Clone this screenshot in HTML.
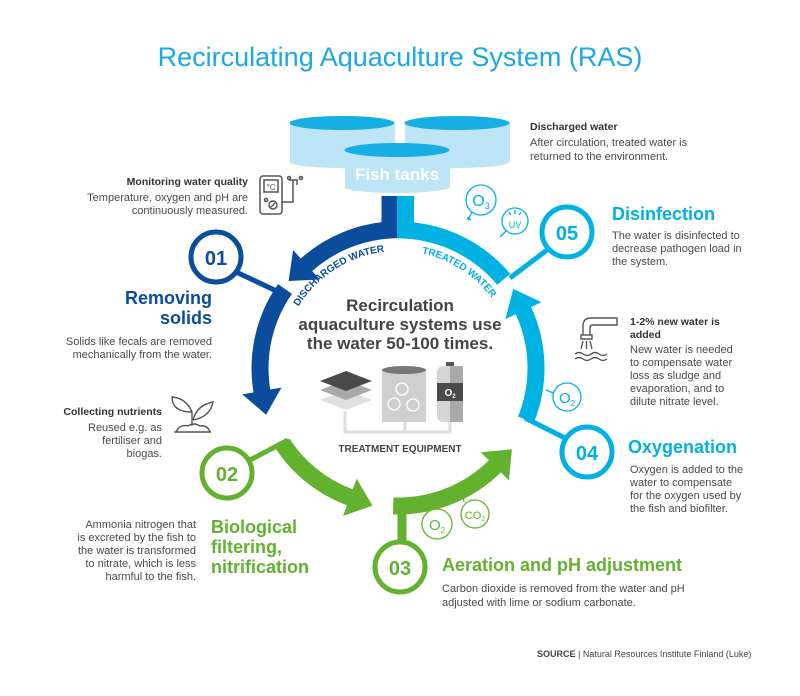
<!DOCTYPE html>
<html><head><meta charset="utf-8"><style>
html,body{margin:0;padding:0;background:#fff;}
svg{display:block;font-family:"Liberation Sans",sans-serif;}
.b{font-size:11px;fill:#4a4a4a;}
.bb{font-size:10.5px;fill:#333;font-weight:bold;}
.h{font-size:18px;font-weight:bold;}
</style></head><body>
<svg width="800" height="696" viewBox="0 0 800 696" xmlns="http://www.w3.org/2000/svg">
<defs>
<marker id="md" markerUnits="userSpaceOnUse" markerWidth="40" markerHeight="44" viewBox="-2 -21 30 42" refX="0" refY="0" orient="auto"><path d="M-1,-19 L22,0 L-1,19 z" fill="#0b4c9c"/></marker>
<marker id="mg" markerUnits="userSpaceOnUse" markerWidth="40" markerHeight="44" viewBox="-2 -21 30 42" refX="0" refY="0" orient="auto"><path d="M-1,-19 L22,0 L-1,19 z" fill="#62b22f"/></marker>
<marker id="ml" markerUnits="userSpaceOnUse" markerWidth="40" markerHeight="44" viewBox="-2 -21 30 42" refX="0" refY="0" orient="auto"><path d="M-1,-19 L22,0 L-1,19 z" fill="#00b1e3"/></marker>
<path id="tp1" d="M296.7,309.5 A117 117 0 0 1 387.8,251.4"/>
<path id="tp2" d="M408.2,251.4 A117 117 0 0 1 499.3,309.5"/>
</defs>

<text x="400" y="66" text-anchor="middle" font-size="27" fill="#1aa9e1">Recirculating Aquaculture System (RAS)</text>

<g>
<rect x="290" y="123" width="105" height="39" fill="#bde5f6"/>
<ellipse cx="342" cy="162" rx="52.5" ry="6" fill="#bde5f6"/>
<ellipse cx="342" cy="123" rx="52.5" ry="7" fill="#16aee3"/>
<rect x="405" y="123" width="105" height="39" fill="#bde5f6"/>
<ellipse cx="457" cy="162" rx="52.5" ry="6" fill="#bde5f6"/>
<ellipse cx="457" cy="123" rx="52.5" ry="7" fill="#16aee3"/>
<rect x="345" y="150" width="105" height="37" fill="#bde5f6"/>
<ellipse cx="397" cy="187" rx="52.5" ry="6" fill="#bde5f6"/>
<ellipse cx="397" cy="150" rx="52.5" ry="7" fill="#16aee3"/>
<text x="397" y="180" text-anchor="middle" font-size="17" font-weight="bold" fill="#fff">Fish tanks</text>
</g>

<text x="530" y="130" class="bb">Discharged water</text>
<text x="530" y="146" class="b">After circulation, treated water is</text>
<text x="530" y="160" class="b">returned to the environment.</text>

<text x="248" y="185" class="bb" text-anchor="end">Monitoring water quality</text>
<text x="248" y="201" class="b" text-anchor="end">Temperature, oxygen and pH are</text>
<text x="248" y="214" class="b" text-anchor="end">continuously measured.</text>
<g fill="none" stroke="#555" stroke-width="1.5">
<rect x="260" y="176" width="22" height="38" rx="3"/>
<rect x="264" y="180" width="14" height="12"/>
<circle cx="266" cy="200" r="1.5"/>
<circle cx="273" cy="205" r="4"/>
<path d="M271,207 L275,203 M282,202 L293,202 L293,180 M289,180 L297,180 L297,185"/>
<circle cx="289" cy="178" r="1.5"/><circle cx="301" cy="178" r="1.5"/>
</g>
<text x="271" y="190" font-size="8" fill="#555" text-anchor="middle">°C</text>

<g fill="none" stroke-width="17" stroke-linejoin="miter">
<path d="M390,196 L390,230 A138 138 0 0 0 305.7,265.5" stroke="#0b4c9c" marker-end="url(#md)"/>
<path d="M285,289 A138 138 0 0 0 262.1,392" stroke="#0b4c9c" marker-end="url(#md)"/>
<path d="M282.3,443.2 A138 138 0 0 0 350.8,497.7" stroke="#62b22f" marker-end="url(#mg)"/>
<path d="M393.2,505.9 A138 138 0 0 0 495.6,465.6" stroke="#62b22f" marker-end="url(#mg)"/>
<path d="M526,419.7 A138 138 0 0 0 523,309.7" stroke="#00b1e3" marker-end="url(#ml)"/>
<path d="M503.7,279.3 A138 138 0 0 0 405.5,230.2 L405.5,196" stroke="#00b1e3"/>
</g>
<line x1="402" y1="505" x2="402" y2="545" stroke="#62b22f" stroke-width="9"/>

<g stroke-width="5" fill="none">
<line x1="236" y1="272" x2="285" y2="295" stroke="#0b4c9c"/>
<circle cx="216" cy="257" r="25" stroke="#0b4c9c" fill="#fff"/>
<line x1="250" y1="460" x2="288" y2="440" stroke="#62b22f"/>
<circle cx="227" cy="473" r="25" stroke="#62b22f" fill="#fff"/>
<circle cx="400" cy="567" r="25" stroke="#62b22f" fill="#fff"/>
<line x1="565" y1="438" x2="525" y2="418" stroke="#00b1e3"/>
<circle cx="587" cy="452" r="25" stroke="#00b1e3" fill="#fff"/>
<line x1="547" y1="250" x2="510" y2="278" stroke="#00b1e3"/>
<circle cx="567" cy="232" r="25" stroke="#00b1e3" fill="#fff"/>
</g>
<g font-size="20" font-weight="bold" text-anchor="middle">
<text x="216" y="265" fill="#0b4c9c">01</text>
<text x="227" y="481" fill="#62b22f">02</text>
<text x="400" y="575" fill="#62b22f">03</text>
<text x="587" y="460" fill="#00b1e3">04</text>
<text x="567" y="240" fill="#00b1e3">05</text>
</g>

<text font-size="10" font-weight="bold" fill="#0b4c9c" text-anchor="middle"><textPath href="#tp1" startOffset="50%">DISCHARGED WATER</textPath></text>
<text font-size="10" font-weight="bold" fill="#00b1e3" text-anchor="middle"><textPath href="#tp2" startOffset="50%">TREATED WATER</textPath></text>

<text x="212" y="304" class="h" fill="#0b4c9c" text-anchor="end">Removing</text>
<text x="212" y="324" class="h" fill="#0b4c9c" text-anchor="end">solids</text>
<text x="212" y="345" class="b" text-anchor="end">Solids like fecals are removed</text>
<text x="212" y="358" class="b" text-anchor="end">mechanically from the water.</text>

<text x="162" y="415" class="bb" text-anchor="end">Collecting nutrients</text>
<text x="162" y="431" class="b" text-anchor="end">Reused e.g. as</text>
<text x="162" y="444" class="b" text-anchor="end">fertiliser and</text>
<text x="162" y="457" class="b" text-anchor="end">biogas.</text>
<g fill="none" stroke="#555" stroke-width="1.4">
<path d="M174,432 L211,432 M176,432 Q180,424 188,426 Q194,422 200,426 Q208,425 210,432"/>
<path d="M192,426 L192,412 Q186,398 172,397 Q172,412 192,412"/>
<path d="M193,420 Q197,405 213,402 Q210,417 193,420"/>
</g>

<g class="b" text-anchor="end">
<text x="196" y="528">Ammonia nitrogen that</text>
<text x="196" y="541">is excreted by the fish to</text>
<text x="196" y="554">the water is transformed</text>
<text x="196" y="567">to nitrate, which is less</text>
<text x="196" y="580">harmful to the fish.</text>
</g>
<text x="211" y="533" class="h" fill="#62b22f">Biological</text>
<text x="211" y="553" class="h" fill="#62b22f">filtering,</text>
<text x="211" y="573" class="h" fill="#62b22f">nitrification</text>

<text x="442" y="571" class="h" fill="#62b22f">Aeration and pH adjustment</text>
<text x="442" y="592" class="b">Carbon dioxide is removed from the water and pH</text>
<text x="442" y="606" class="b">adjusted with lime or sodium carbonate.</text>

<text x="628" y="453" class="h" fill="#00b1e3">Oxygenation</text>
<g class="b">
<text x="630" y="473">Oxygen is added to the</text>
<text x="630" y="486">water to compensate</text>
<text x="630" y="499">for the oxygen used by</text>
<text x="630" y="512">the fish and biofilter.</text>
</g>

<text x="630" y="325" class="bb">1-2% new water is</text>
<text x="630" y="338" class="bb">added</text>
<g class="b">
<text x="630" y="353">New water is needed</text>
<text x="630" y="366">to compensate water</text>
<text x="630" y="379">loss as sludge and</text>
<text x="630" y="392">evaporation, and to</text>
<text x="630" y="405">dilute nitrate level.</text>
</g>
<g fill="none" stroke="#555" stroke-width="1.4">
<path d="M583,335 L583,326 Q583,318 591,318 L617,318 L617,325 L593,325 Q590,325 590,328 L590,335"/>
<rect x="581" y="335" width="11" height="4"/>
<path d="M583,341 L581,349 M586.5,341 L586.5,349 M590,341 L592,349"/>
<path d="M575,354 q4,-3 8,0 t8,0 t8,0 t8,0 M575,359 q4,-3 8,0 t8,0 t8,0 t8,0"/>
</g>

<text x="612" y="220" class="h" fill="#00b1e3">Disinfection</text>
<text x="612" y="239" class="b">The water is disinfected to</text>
<text x="612" y="252" class="b">decrease pathogen load in</text>
<text x="612" y="265" class="b">the system.</text>

<g fill="none" stroke-width="1.3">
<circle cx="481" cy="200" r="15" stroke="#00b1e3"/>
<path d="M472,212 L468,220 M468,220 l3,-1 M468,220 l0,-3" stroke="#00b1e3"/>
<circle cx="515" cy="221" r="13" stroke="#00b1e3"/>
<path d="M506,231 L500,237" stroke="#00b1e3"/>
<path d="M515,210 l0,4 M509,212 l2,3 M521,212 l-2,3" stroke="#00b1e3"/>
<circle cx="567" cy="397" r="14" stroke="#00b1e3"/>
<path d="M553,393 L546,390" stroke="#00b1e3"/>
<circle cx="437" cy="524" r="15" stroke="#62b22f"/>
<path d="M433,509 L433,502" stroke="#62b22f"/>
<circle cx="475" cy="514" r="14" stroke="#62b22f"/>
<path d="M464,502 L463,495" stroke="#62b22f"/>
</g>
<g fill="#00b1e3">
<text x="481" y="206" font-size="16" text-anchor="middle">O<tspan font-size="9" dy="3">3</tspan></text>
<text x="515" y="228" font-size="9" text-anchor="middle">UV</text>
<text x="567" y="403" font-size="15" text-anchor="middle">O<tspan font-size="8" dy="3">2</tspan></text>
</g>
<g fill="#62b22f">
<text x="437" y="530" font-size="15" text-anchor="middle">O<tspan font-size="8" dy="3">2</tspan></text>
<text x="475" y="519" font-size="11" text-anchor="middle">CO<tspan font-size="7" dy="2">2</tspan></text>
</g>

<g font-size="17" font-weight="bold" fill="#444" text-anchor="middle">
<text x="400" y="311">Recirculation</text>
<text x="400" y="330">aquaculture systems use</text>
<text x="400" y="349">the water 50-100 times.</text>
</g>
<path d="M320,400 L346,390 L372,400 L346,410 z" fill="#e0e0e0"/>
<path d="M320,390 L346,380 L372,390 L346,400 z" fill="#a9a9a9"/>
<path d="M320,381 L346,371 L372,381 L346,391 z" fill="#4a4a4a"/>
<path d="M345,411 L345,432 L405,432 L405,421 M405,432 L450,432 L450,421" fill="none" stroke="#ddd" stroke-width="3"/>
<rect x="382" y="370" width="44" height="52" fill="#cfcfcf"/>
<ellipse cx="404" cy="370" rx="22" ry="4" fill="#777"/>
<g fill="none" stroke="#fff" stroke-width="1.3">
<circle cx="402" cy="389" r="6"/><circle cx="394" cy="404" r="6"/><circle cx="413" cy="405" r="6"/>
</g>
<rect x="446" y="362" width="8" height="4" fill="#555"/>
<rect x="437" y="366" width="26" height="56" rx="6" fill="#d5d5d5"/>
<rect x="450" y="366" width="13" height="56" fill="#aaa"/>
<rect x="437" y="383" width="26" height="18" fill="#4a4a4a"/>
<text x="450" y="396" font-size="10" font-weight="bold" fill="#fff" text-anchor="middle">O<tspan font-size="6" dy="2">2</tspan></text>
<text x="400" y="452" font-size="10" font-weight="bold" fill="#444" text-anchor="middle">TREATMENT EQUIPMENT</text>

<text x="537" y="657" font-size="9" fill="#444"><tspan font-weight="bold">SOURCE</tspan>  |  Natural Resources Institute Finland (Luke)</text>
</svg>
</body></html>
